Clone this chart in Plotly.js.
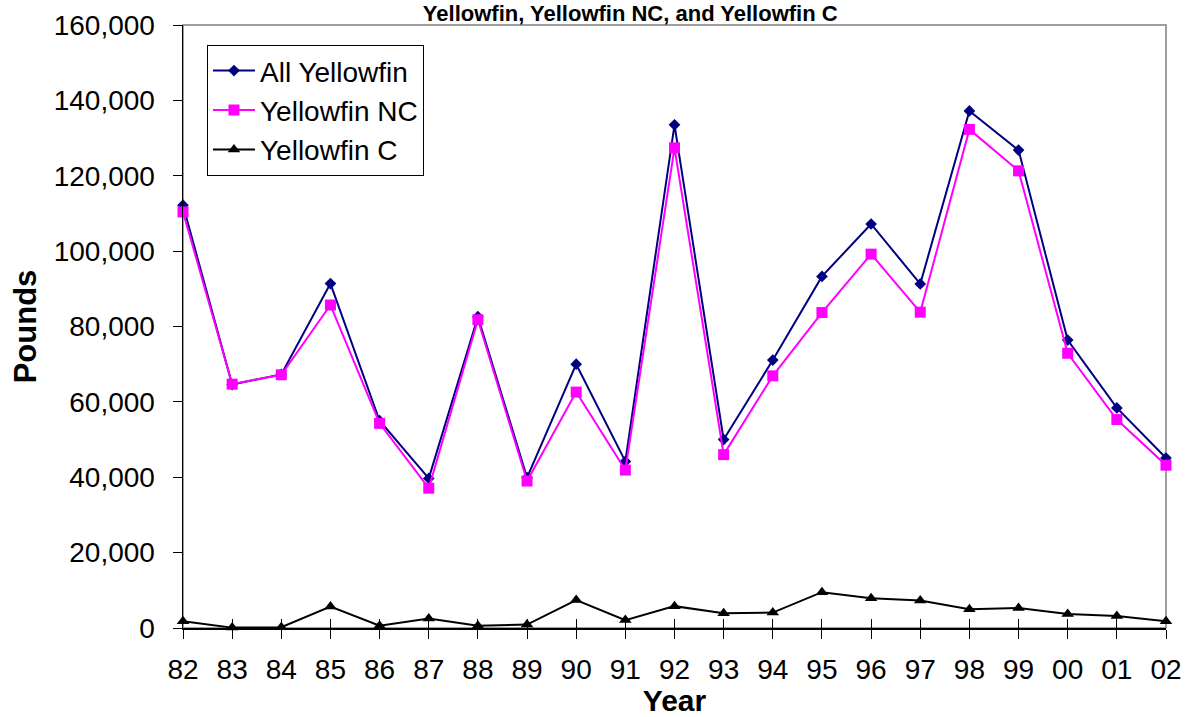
<!DOCTYPE html>
<html>
<head>
<meta charset="utf-8">
<script src="https://cdn.plot.ly/plotly-3.0.1.min.js"></script>
<style>
  html, body { margin: 0; padding: 0; background: #ffffff; overflow: hidden; }
  #chart { width: 1185px; height: 717px; }
</style>
</head>
<body>
<div id="chart"></div>
<script>
// ---- Data ----
var years = ['82','83','84','85','86','87','88','89','90','91','92','93','94','95','96','97','98','99','00','01','02'];
var allYellowfin = [112200, 64600, 67300, 91400, 55000, 39700, 82600, 39900, 70000, 44200, 133500, 50000, 71100, 93300, 107200, 91300, 137200, 126800, 76400, 58400, 45100];
var yellowfinNC  = [110400, 64700, 67200, 85700, 54300, 37100, 81800, 39000, 62600, 41900, 127400, 46000, 66900, 83700, 99200, 83800, 132300, 121300, 72900, 55300, 43200];
var yellowfinC   = [1800, 100, 200, 5700, 600, 2500, 600, 900, 7400, 2100, 5800, 3900, 4100, 9500, 7900, 7300, 5000, 5300, 3700, 3200, 1800];
var seriesNames  = ['All Yellowfin', 'Yellowfin NC', 'Yellowfin C'];
var titleText    = 'Yellowfin, Yellowfin NC, and Yellowfin C';

var FONT = 'Liberation Sans, Arial, Helvetica, sans-serif';

var traces = [
  {
    x: years, y: allYellowfin, name: seriesNames[0], type: 'scatter', mode: 'lines+markers',
    line: {color: '#000080', width: 2},
    marker: {symbol: 'diamond', size: 9, color: '#000080'},
    cliponaxis: false, legendgroup: 'a'
  },
  {
    x: years, y: yellowfinNC, name: seriesNames[1], type: 'scatter', mode: 'lines+markers',
    line: {color: '#FF00FF', width: 2},
    marker: {symbol: 'square', size: 11, color: '#FF00FF'},
    cliponaxis: false, legendgroup: 'b'
  },
  {
    x: years, y: yellowfinC, name: seriesNames[2], type: 'scatter', mode: 'lines+markers',
    line: {color: '#000000', width: 2},
    marker: {symbol: 'triangle-up', size: 11, color: '#000000'},
    cliponaxis: false, legendgroup: 'c'
  },
  // invisible helper trace on overlay axis (ticks crossing the x axis)
  {
    x: years, y: yellowfinC, xaxis: 'x2', yaxis: 'y', type: 'scatter', mode: 'lines',
    line: {width: 0, color: 'rgba(0,0,0,0)'},
    showlegend: false, hoverinfo: 'skip'
  }
];

var layout = {
  width: 1185, height: 717,
  paper_bgcolor: '#ffffff', plot_bgcolor: '#ffffff',
  margin: {l: 183, r: 19, t: 25, b: 89, pad: 0},
  font: {family: FONT, color: '#000000', size: 28},
  showlegend: true,
  title: {
    text: '<b>' + titleText + '</b>',
    font: {family: FONT, size: 22, color: '#000000'},
    xref: 'paper', x: 0.455, xanchor: 'center',
    yref: 'container', y: 0.981, yanchor: 'middle',
    automargin: false
  },
  xaxis: {
    type: 'category',
    range: [0, years.length - 1],
    showgrid: false, zeroline: false,
    showline: true, linecolor: '#000000', linewidth: 1.5,
    ticks: 'outside', ticklen: 9, tickwidth: 1, tickcolor: '#000000',
    ticklabelstandoff: 7,
    tickfont: {family: FONT, size: 28, color: '#000000'},
    title: {text: '<b>Year</b>', font: {family: FONT, size: 30, color: '#000000'}, standoff: 11}
  },
  xaxis2: {
    type: 'category', overlaying: 'x', side: 'bottom', anchor: 'y',
    range: [0, years.length - 1],
    showgrid: false, zeroline: false, showline: false,
    ticks: 'inside', ticklen: 9, tickwidth: 1, tickcolor: '#000000',
    showticklabels: false
  },
  yaxis: {
    range: [0, 160000], dtick: 20000, tickformat: ',d',
    showgrid: false, zeroline: false,
    showline: true, linecolor: '#000000', linewidth: 1.5,
    ticks: 'outside', ticklen: 9, tickwidth: 1, tickcolor: '#000000',
    ticklabelstandoff: 12,
    tickfont: {family: FONT, size: 28, color: '#000000'},
    title: {text: '<b>Pounds</b>', font: {family: FONT, size: 31, color: '#000000'}, standoff: 8}
  },
  legend: {
    x: 0.0244, xanchor: 'left', y: 0.967, yanchor: 'top',
    bgcolor: '#ffffff', bordercolor: '#000000', borderwidth: 1,
    font: {family: FONT, size: 28, color: '#000000'},
    itemwidth: 42,
    traceorder: 'grouped', tracegroupgap: 0
  },
  shapes: [
    {type: 'rect', xref: 'paper', yref: 'paper', x0: 0, x1: 1, y0: 0, y1: 1,
     line: {color: '#808080', width: 1.5}, fillcolor: 'rgba(0,0,0,0)', layer: 'below'}
  ]
};

Plotly.newPlot('chart', traces, layout, {displayModeBar: false, staticPlot: true});
</script>
</body>
</html>
